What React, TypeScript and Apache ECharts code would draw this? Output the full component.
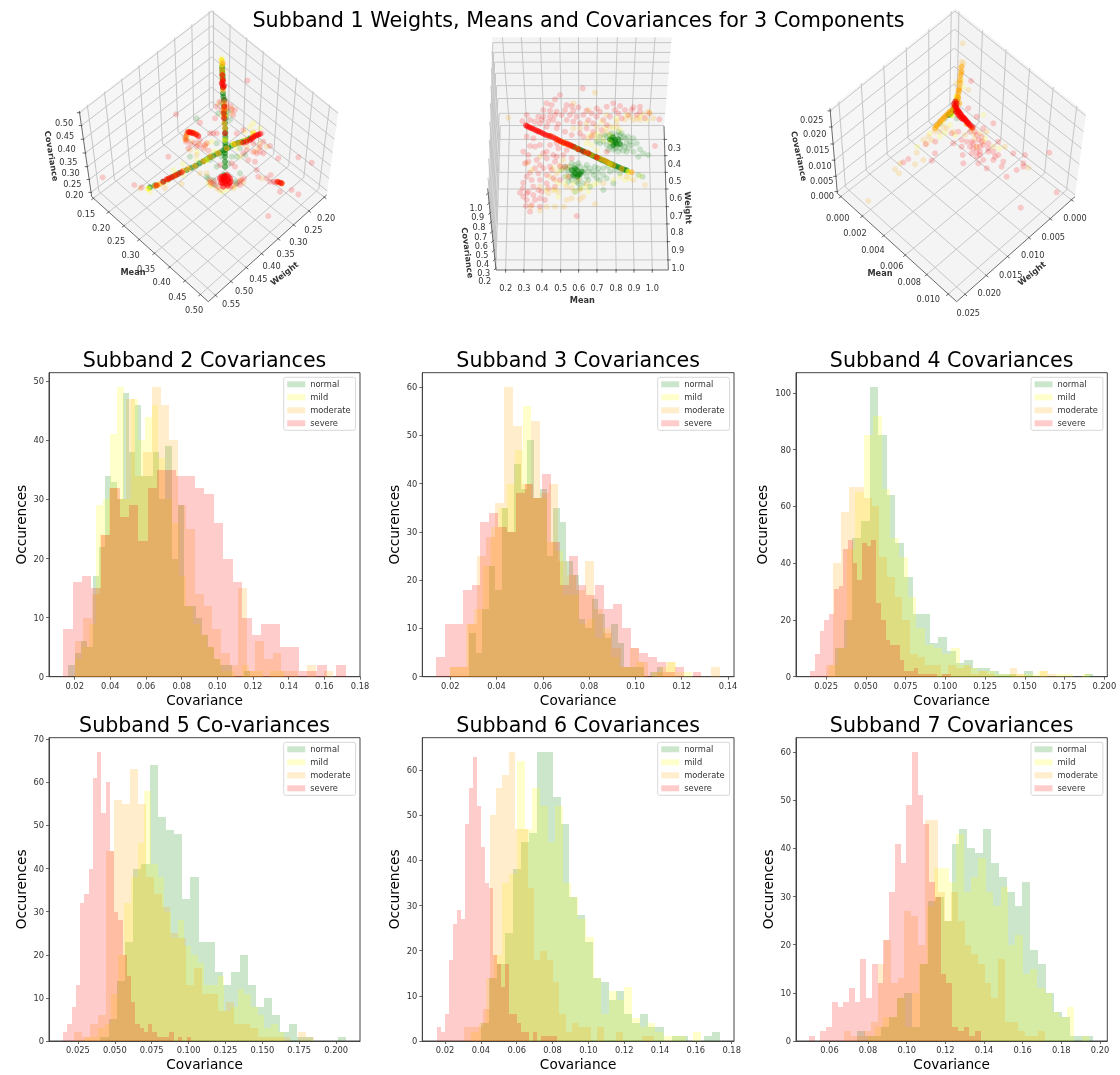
import React, { useEffect, useRef } from "react";
import * as echarts from "echarts";

// ---------- histogram data: [lowest edge, highest edge] and 30 bin counts per class ----------
const classNames = ["normal", "mild", "moderate", "severe"];
const classFills = ["rgba(0,128,0,0.2)", "rgba(255,255,0,0.2)", "rgba(255,165,0,0.2)", "rgba(255,0,0,0.2)"];
const classSolid = ["#008000", "#ffff00", "#ffa500", "#ff0000"];

const s2Ranges = [[0.0165, 0.1185], [0.02, 0.1375], [0.02, 0.1647], [0.0135, 0.172]];
const s2Normal = [2, 4, 6, 5, 17, 22, 34, 33, 30, 48, 38, 46, 34, 34, 38, 30, 39, 20, 29, 12, 12, 10, 7, 5, 3, 2, 2, 0, 0, 1];
const s2Mild = [3, 5, 9, 29, 30, 41, 49, 30, 47, 40, 44, 46, 37, 30, 26, 17, 12, 9, 7, 5, 3, 1, 1, 0, 2, 1, 1, 0, 1, 1];
const s2Moderate = [6, 10, 14, 24, 32, 30, 47, 34, 38, 49, 46, 40, 29, 25, 14, 12, 8, 4, 2, 15, 1, 6, 3, 4, 1, 1, 0, 2, 0, 1];
const s2Severe = [8, 16, 17, 15, 24, 32, 27, 29, 23, 32, 35, 35, 34, 34, 32, 31, 26, 20, 16, 10, 7, 9, 9, 5, 5, 1, 1, 2, 0, 2];

const s3Ranges = [[0.0282, 0.1119], [0.02, 0.1244], [0.02, 0.1364], [0.0139, 0.1285]];
const s3Normal = [9, 5, 14, 23, 18, 35, 30, 44, 39, 49, 37, 39, 25, 35, 32, 24, 21, 12, 10, 16, 13, 8, 11, 7, 2, 2, 2, 0, 1, 2];
const s3Mild = [2, 2, 11, 14, 23, 31, 35, 40, 47, 56, 37, 37, 28, 26, 17, 17, 11, 12, 8, 10, 4, 2, 2, 3, 0, 1, 2, 3, 1, 1];
const s3Moderate = [2, 2, 11, 25, 29, 36, 60, 52, 40, 53, 38, 40, 24, 21, 18, 24, 14, 9, 6, 2, 6, 3, 0, 1, 3, 0, 0, 0, 0, 2];
const s3Severe = [4, 11, 11, 18, 19, 32, 34, 31, 30, 38, 40, 37, 42, 28, 19, 25, 19, 17, 19, 14, 15, 10, 6, 5, 4, 3, 1, 2, 0, 1];

const s4Ranges = [[0.0307, 0.1931], [0.0271, 0.1912], [0.0248, 0.1694], [0.0151, 0.1038]];
const s4Normal = [10, 20, 49, 55, 102, 85, 64, 47, 35, 22, 22, 12, 14, 9, 5, 6, 3, 3, 2, 1, 1, 0, 2, 0, 0, 0, 0, 0, 0, 1];
const s4Mild = [4, 10, 45, 65, 85, 92, 66, 49, 42, 28, 17, 11, 10, 8, 10, 4, 3, 2, 2, 1, 1, 1, 1, 1, 2, 0, 1, 1, 0, 1];
const s4Moderate = [4, 40, 58, 67, 67, 63, 60, 42, 35, 28, 20, 8, 7, 4, 4, 1, 4, 3, 4, 1, 2, 1, 0, 0, 3, 1, 0, 0, 2, 1];
const s4Severe = [2, 8, 16, 20, 22, 31, 32, 45, 48, 40, 34, 47, 46, 48, 26, 20, 13, 11, 11, 6, 2, 2, 3, 1, 1, 1, 1, 0, 1, 1];

const s5Ranges = [[0.0403, 0.2066], [0.0295, 0.1648], [0.0223, 0.1847], [0.0149, 0.1015]];
const s5Normal = [1, 5, 14, 23, 40, 41, 64, 52, 49, 48, 33, 38, 23, 23, 16, 13, 16, 20, 13, 8, 10, 6, 2, 4, 1, 1, 0, 0, 0, 1];
const s5Mild = [1, 1, 3, 4, 11, 20, 32, 38, 46, 58, 41, 38, 30, 24, 28, 22, 20, 18, 13, 13, 15, 7, 8, 12, 11, 8, 6, 3, 4, 2];
const s5Moderate = [2, 1, 4, 6, 44, 56, 55, 63, 55, 38, 34, 31, 25, 24, 13, 17, 11, 11, 7, 9, 4, 4, 3, 1, 1, 1, 1, 0, 2, 1];
const s5Severe = [2, 4, 8, 13, 32, 34, 40, 61, 67, 53, 60, 44, 30, 28, 20, 15, 9, 4, 3, 2, 4, 2, 1, 1, 1, 2, 0, 1, 0, 1];

const s6Ranges = [[0.0401, 0.1735], [0.0345, 0.1629], [0.0308, 0.1368], [0.0155, 0.0825]];
const s6Normal = [4, 14, 17, 24, 38, 44, 46, 64, 64, 54, 48, 32, 28, 22, 14, 13, 9, 11, 6, 4, 6, 3, 3, 0, 1, 1, 0, 0, 1, 2];
const s6Mild = [2, 4, 14, 19, 35, 37, 62, 47, 56, 52, 44, 52, 35, 32, 27, 23, 14, 6, 11, 9, 12, 5, 3, 4, 2, 1, 1, 1, 0, 2];
const s6Moderate = [3, 3, 3, 7, 50, 56, 59, 64, 47, 47, 34, 18, 20, 18, 13, 6, 2, 4, 3, 3, 0, 3, 0, 0, 2, 0, 0, 0, 1, 1];
const s6Severe = [3, 2, 6, 18, 26, 29, 27, 48, 56, 63, 52, 43, 35, 34, 19, 17, 12, 17, 6, 6, 4, 2, 2, 0, 2, 0, 1, 1, 1, 1];

const s7Ranges = [[0.0744, 0.1965], [0.0799, 0.1943], [0.0676, 0.1716], [0.0494, 0.1383]];
const s7Normal = [2, 1, 1, 3, 5, 9, 10, 3, 16, 29, 30, 25, 41, 44, 40, 39, 44, 37, 34, 31, 28, 33, 19, 16, 10, 6, 5, 1, 1, 1];
const s7Mild = [1, 3, 5, 5, 9, 3, 10, 16, 28, 36, 36, 33, 43, 31, 34, 38, 31, 28, 32, 20, 22, 14, 15, 11, 10, 6, 5, 7, 0, 1];
const s7Moderate = [2, 1, 1, 2, 4, 16, 21, 12, 13, 27, 26, 20, 46, 46, 31, 25, 31, 25, 20, 18, 16, 12, 9, 17, 4, 4, 2, 1, 1, 2];
const s7Severe = [1, 0, 2, 3, 8, 7, 8, 11, 8, 17, 9, 16, 12, 21, 31, 41, 37, 49, 60, 51, 45, 33, 30, 14, 12, 3, 2, 3, 1, 2];

const xTicks2 = [0.02, 0.04, 0.06, 0.08, 0.1, 0.12, 0.14, 0.16, 0.18];
const xTicks3 = [0.02, 0.04, 0.06, 0.08, 0.1, 0.12, 0.14];
const xTicks4 = [0.025, 0.05, 0.075, 0.1, 0.125, 0.15, 0.175, 0.2];
const xTicks7 = [0.06, 0.08, 0.1, 0.12, 0.14, 0.16, 0.18, 0.2];
const yTicks2 = [0, 10, 20, 30, 40, 50];
const yTicks3 = [0, 10, 20, 30, 40, 50, 60];
const yTicks4 = [0, 20, 40, 60, 80, 100];
const yTicks5 = [0, 10, 20, 30, 40, 50, 60, 70];

const panels = [
  { title: "Subband 2 Covariances", ranges: s2Ranges, counts: [s2Normal, s2Mild, s2Moderate, s2Severe], left: 49, right: 360, top: 372.7, bottom: 676.7, xMin: 0.0056, xMax: 0.18, yMax: 51.45, xTicks: xTicks2, yTicks: yTicks2, dec: 2, gap: 21 },
  { title: "Subband 3 Covariances", ranges: s3Ranges, counts: [s3Normal, s3Mild, s3Moderate, s3Severe], left: 422.3, right: 734, top: 372.7, bottom: 676.7, xMin: 0.0079, xMax: 0.1426, yMax: 63, xTicks: xTicks3, yTicks: yTicks3, dec: 2, gap: 21 },
  { title: "Subband 4 Covariances", ranges: s4Ranges, counts: [s4Normal, s4Mild, s4Moderate, s4Severe], left: 796, right: 1107.3, top: 372.7, bottom: 676.7, xMin: 0.0061, xMax: 0.2019, yMax: 107.1, xTicks: xTicks4, yTicks: yTicks4, dec: 3, gap: 27 },
  { title: "Subband 5 Co-variances", ranges: s5Ranges, counts: [s5Normal, s5Mild, s5Moderate, s5Severe], left: 49, right: 360, top: 737.7, bottom: 1041, xMin: 0.0054, xMax: 0.2162, yMax: 70.35, xTicks: xTicks4, yTicks: yTicks5, dec: 3, gap: 21 },
  { title: "Subband 6 Covariances", ranges: s6Ranges, counts: [s6Normal, s6Mild, s6Moderate, s6Severe], left: 422.3, right: 734, top: 737.7, bottom: 1041, xMin: 0.0073, xMax: 0.1813, yMax: 67.2, xTicks: xTicks2, yTicks: yTicks3, dec: 2, gap: 21 },
  { title: "Subband 7 Covariances", ranges: s7Ranges, counts: [s7Normal, s7Mild, s7Moderate, s7Severe], left: 796, right: 1107.3, top: 737.7, bottom: 1041, xMin: 0.0427, xMax: 0.2038, yMax: 63, xTicks: xTicks7, yTicks: yTicks3, dec: 2, gap: 21 },
];

// ---------- Subband 1 scatter: positions in each 3D view's projected plane ----------
const v1NormalCore = [[546,200],[547,218],[548,236],[549,280],[552,300],[553,335],[555,355],[556,385],[556,410],[556,430],[556,450],[555,470],[555,500],[553,525],[330,562],[370,545],[398,530],[420,518],[455,503],[478,490],[500,478],[520,467],[540,458],[575,437],[595,428],[612,424],[630,415],[547,209],[548,227],[549,262],[550,290],[552,318],[554,345],[555,370],[556,398],[556,420],[556,440],[555,460],[555,485],[345,556],[385,538],[410,524],[440,510],[467,497],[490,484],[510,472],[530,462],[550,452],[565,443],[585,432],[604,426],[622,420]];
const v1MildCore = [[545,180],[546,195],[325,566],[352,556],[640,400],[580,432],[500,480],[555,420]];
const v1ModerateCore = [[546,210],[548,240],[552,310],[553,370],[345,558],[385,538],[430,512],[465,498],[510,470],[585,432],[620,420],[460,398],[445,395],[725,550],[555,330],[548,190],[547,225],[549,270],[551,325],[554,350],[555,385],[360,552],[405,527],[445,506],[490,484],[535,460],[560,445],[600,428],[638,410],[470,404],[452,397],[715,546],[440,405],[437,418]];
const v1SevereCore = [[547,225],[548,245],[548,255],[549,262],[551,340],[555,400],[350,556],[380,538],[388,535],[395,532],[425,517],[550,530],[555,528],[565,530],[545,530],[545,540],[555,540],[565,540],[548,550],[558,552],[568,550],[553,545],[620,425],[630,420],[640,412],[650,406],[655,404],[450,397],[460,400],[468,403],[725,550],[712,545],[555,535],[560,545],[550,536],[545,250],[552,258],[549,240],[552,355],[553,320],[415,522],[370,545],[405,527],[610,428],[645,408],[660,402],[635,416],[455,398],[445,396],[475,408],[720,548],[540,535],[570,535],[560,525],[550,560],[563,557],[543,548],[572,545]];
const v1NormalHalo = [[470,355],[555,300],[565,490],[600,520],[615,465],[510,480],[450,470],[545,310],[570,360],[520,540],[590,550],[500,530],[530,430],[525,555],[585,545],[505,535],[600,445],[535,340],[565,335],[545,470],[575,470],[590,470],[530,500]];
const v1MildHalo = [[640,370],[428,492],[470,455],[515,425],[505,550],[560,570],[610,420],[545,175],[550,215],[375,550],[330,575],[400,510],[430,525],[660,385],[590,445],[520,455],[600,470],[512,558],[545,575],[585,560],[630,380],[615,395],[500,430],[545,345],[560,345],[530,455],[470,480],[410,520]];
const v1ModerateHalo = [[300,565],[375,565],[425,552],[450,450],[470,465],[520,470],[500,520],[620,440],[660,430],[540,570],[510,545],[600,430],[575,340],[535,310],[560,320],[545,180],[548,195],[640,395],[645,455],[480,520],[600,540],[515,555],[530,565],[580,565],[610,548],[440,410],[455,425],[475,432],[495,440],[575,325],[550,335],[655,445],[680,440],[665,535]];
const v1SevereHalo = [[622,242],[408,343],[480,368],[385,470],[188,532],[283,555],[305,562],[525,355],[575,330],[540,305],[530,320],[440,400],[438,425],[445,445],[480,420],[495,435],[510,400],[530,400],[610,390],[590,400],[660,440],[690,438],[665,400],[670,460],[625,480],[645,485],[650,510],[655,530],[680,535],[692,525],[700,545],[720,575],[755,570],[775,583],[685,648],[775,472],[815,488],[715,475],[600,545],[575,490],[585,500],[520,400],[500,430],[470,440],[570,560],[525,545],[540,495],[610,460],[640,455],[620,450],[560,310],[580,345],[552,300],[512,548],[600,555],[510,540],[520,552],[535,560],[575,558],[590,552],[605,540],[612,535],[435,412],[440,420],[452,432],[465,428],[480,435],[490,445],[505,452],[545,330],[560,325],[572,318],[585,330],[660,455],[650,460],[640,430],[670,425],[690,545],[705,548]];

const v2NormalCore = [[395,378],[410,385],[422,390],[435,396],[448,402],[460,408],[472,413],[485,420],[498,425],[510,431],[522,436],[535,441],[548,447],[560,451],[515,360],[525,368],[535,358],[520,375],[510,358],[540,372],[395,450],[410,450],[405,460],[420,462],[412,470],[403,381],[416,387],[429,393],[441,399],[454,405],[466,410],[478,416],[491,422],[504,428],[516,433],[528,438],[541,444],[554,449],[525,360],[530,372],[518,352],[405,445],[415,465],[400,465],[425,455]];
const v2MildCore = [[565,455],[372,368],[510,432]];
const v2ModerateCore = [[350,358],[365,365],[380,372],[395,378],[470,412],[490,420],[505,428],[575,457],[357,362],[372,369],[388,375],[412,386],[440,398],[455,405],[480,416],[498,424],[520,436],[545,446],[330,348]];
const v2SevereCore = [[258,316],[268,322],[278,326],[290,332],[300,336],[312,342],[325,347],[340,352],[355,360],[370,368],[385,373],[400,380],[430,395],[262,319],[273,324],[284,329],[295,334],[306,339],[318,345],[332,349],[347,356],[362,364],[378,370],[392,376],[415,388],[445,400],[470,412]];
const v2NormalHalo = [[500,350],[510,345],[520,350],[530,345],[545,340],[555,355],[540,360],[525,365],[510,365],[490,365],[500,375],[515,378],[530,380],[545,375],[560,370],[570,365],[520,390],[535,395],[550,392],[565,385],[505,390],[480,370],[580,395],[600,388],[625,405],[595,465],[608,470],[375,440],[390,440],[405,435],[420,440],[435,445],[385,455],[400,452],[415,455],[430,458],[445,455],[390,470],[405,470],[420,475],[440,470],[460,465],[475,458],[490,465],[500,475],[410,485],[385,485],[430,490],[465,440],[490,445],[525,450],[405,515],[490,510],[520,490],[515,340],[535,335],[550,350],[565,350],[575,375],[590,370],[495,345],[480,350],[470,365],[510,380],[525,385],[540,385],[555,380],[580,355],[560,395],[610,400],[595,410],[540,345],[365,450],[380,445],[395,430],[415,430],[440,435],[450,445],[460,455],[375,470],[395,480],[415,490],[445,480],[470,475],[480,480],[510,455],[505,440],[475,445],[540,460],[420,505],[450,500]];
const v2MildHalo = [[630,278],[560,285],[510,345],[470,355],[490,360],[450,345],[340,445],[355,490],[380,470],[405,515],[440,500],[458,495],[520,480],[570,475],[600,468],[520,325],[485,305],[540,330],[355,530],[320,510],[275,450],[440,370],[510,365],[470,340],[495,325],[530,295],[600,290],[620,300],[455,375],[470,390],[360,450],[375,490],[400,490],[445,515],[470,490],[540,470],[555,480],[425,505],[345,510]];
const v2ModerateHalo = [[205,293],[300,572],[325,520],[272,560],[345,560],[355,515],[372,560],[395,535],[420,538],[465,552],[465,218],[400,250],[445,270],[500,285],[555,298],[580,300],[610,283],[625,275],[370,420],[385,440],[350,460],[415,480],[440,490],[445,355],[470,320],[485,345],[510,320],[530,305],[570,290],[615,495],[340,510],[380,500],[420,510],[330,470],[360,435],[300,410],[440,310],[460,345],[420,325],[400,325],[500,335],[530,320],[590,295],[640,295],[600,300],[440,395],[370,445],[345,480],[395,505],[430,530],[490,490],[560,470],[580,480],[380,540],[320,560],[260,430],[300,500]];
const v2SevereHalo = [[428,205],[345,238],[360,225],[320,250],[380,255],[395,258],[330,272],[310,270],[365,285],[400,272],[440,272],[470,265],[500,260],[520,250],[540,258],[580,262],[600,260],[310,290],[295,290],[260,285],[247,303],[340,300],[355,312],[380,300],[400,305],[420,310],[445,300],[470,290],[490,300],[510,290],[535,280],[555,270],[590,285],[628,280],[658,298],[645,378],[320,320],[350,325],[375,335],[395,345],[420,340],[440,325],[460,335],[485,330],[280,355],[260,350],[300,375],[330,375],[355,385],[270,378],[250,395],[310,400],[340,405],[265,425],[290,420],[320,415],[345,425],[370,405],[395,415],[285,445],[310,445],[335,450],[360,440],[270,458],[340,475],[300,480],[250,488],[275,480],[320,490],[240,518],[248,505],[295,510],[260,540],[285,540],[300,535],[258,558],[275,555],[410,588],[360,480],[385,470],[500,395],[615,295],[270,300],[285,305],[305,300],[330,290],[350,275],[375,270],[410,290],[430,285],[455,280],[480,275],[525,270],[565,285],[575,270],[600,275],[545,295],[325,305],[345,285],[390,285],[415,262],[460,310],[500,315],[430,350],[455,350],[335,255],[300,310],[285,380],[320,395],[350,370],[265,405],[255,430],[300,435],[330,440],[350,410],[380,390],[375,440],[295,460],[320,465],[260,470],[280,500],[305,515],[325,505],[345,500],[265,515],[250,530],[280,525],[270,575],[300,560],[315,540],[260,520]];

const v3NormalCore = [[512,340],[520,330],[528,315],[530,300],[505,345],[516,335],[524,322],[508,343]];
const v3MildCore = [[530,290],[515,345]];
const v3ModerateCore = [[535,295],[535,280],[540,250],[542,225],[538,265],[530,300],[520,325],[510,335],[500,345],[490,355],[480,365],[470,378],[575,385],[533,290],[537,272],[540,240],[544,215],[545,200],[525,320],[515,332],[505,340],[495,350],[485,360],[475,372],[465,385],[560,372],[538,310]];
const v3SevereCore = [[525,318],[530,325],[535,333],[540,340],[545,348],[550,353],[555,358],[560,365],[565,370],[572,378],[528,335],[535,345],[545,355],[530,310],[528,322],[533,330],[538,337],[543,344],[548,351],[553,356],[558,362],[563,368],[568,374],[532,338],[540,350],[550,358],[522,312],[526,305],[578,382]];
const v3NormalHalo = [[510,345],[520,330],[525,310],[495,355],[530,355],[480,370]];
const v3MildHalo = [[412,440],[495,398],[510,375],[450,400],[480,410],[525,405],[610,345],[590,440],[658,445],[615,415],[545,240],[550,260],[470,380],[490,365]];
const v3ModerateHalo = [[548,130],[545,185],[550,190],[540,230],[565,270],[265,603],[345,508],[357,520],[405,493],[430,480],[410,458],[430,420],[445,410],[465,395],[470,375],[490,380],[580,400],[555,405],[620,395],[675,440],[745,503],[360,490],[640,440],[530,250],[545,215],[535,270],[540,205],[480,395],[500,385],[455,420],[440,430],[585,415],[610,425],[600,400],[520,395]];
const v3SevereHalo = [[573,243],[515,400],[535,395],[466,425],[437,433],[465,460],[455,482],[370,487],[385,477],[520,430],[548,465],[580,445],[595,420],[605,410],[610,435],[625,455],[640,455],[655,465],[590,470],[575,460],[600,465],[610,480],[595,490],[550,490],[620,505],[640,480],[670,485],[665,500],[710,510],[730,490],[735,465],[680,530],[808,458],[830,577],[722,623],[655,425],[640,370],[610,385],[590,405],[575,425],[560,425],[545,420],[590,350],[565,325],[600,440],[625,430],[700,460],[730,500],[580,430],[590,440],[605,425],[570,395],[585,395],[625,445],[600,455],[645,470],[590,455],[570,440],[545,440]];

type P = number[];
const views = [
  {
    origin: [40, 0], size: [320, 330],
    core: [v1NormalCore, v1MildCore, v1ModerateCore, v1SevereCore],
    halo: [v1NormalHalo, v1MildHalo, v1ModerateHalo, v1SevereHalo],
    L: [155, 590], F: [505, 905], R: [860, 585], C: [515, 320], A: [515, 28], TL: [118, 333], TR: [895, 335],
    mFr: [0.015, 0.146, 0.277, 0.408, 0.539, 0.67, 0.801, 0.932],
    wFr: [0.02, 0.15, 0.28, 0.41, 0.55, 0.68, 0.81, 0.94],
    zNear: [0.05, 0.2, 0.35, 0.51, 0.67, 0.83, 0.98], zFar: [0.05, 0.2, 0.35, 0.51, 0.67, 0.83, 0.98],
    zTick: [0.05, 0.2, 0.35, 0.51, 0.67, 0.83, 0.98],
    mLabels: [["0.15",138,642],["0.20",183,685],["0.25",228,722],["0.30",272,764],["0.35",318,806],["0.40",365,847],["0.45",412,890],["0.50",462,930]],
    wLabels: [["0.20",858,655],["0.25",820,690],["0.30",775,727],["0.35",737,762],["0.40",695,797],["0.45",655,838],["0.50",612,873],["0.55",573,913]],
    zLabels: [["0.50",72,370],["0.45",75,408],["0.40",80,448],["0.35",85,485],["0.30",92,518],["0.25",97,552],["0.20",103,585]],
    names: [["Weight",733,820,38],["Mean",279,817,0],["Covariance",35,468,-80.5]],
  },
  {
    origin: [440, 20], size: [280, 300],
    core: [v2NormalCore, v2MildCore, v2ModerateCore, v2SevereCore],
    halo: [v2NormalHalo, v2MildHalo, v2ModerateHalo, v2SevereHalo],
    L: [168, 750], F: [685, 750], R: [672, 318], C: [181, 318], A: [157, 52], TL: [143, 505], TR: [695, 52],
    mFr: [0.056, 0.162, 0.267, 0.375, 0.48, 0.586, 0.697, 0.801, 0.907],
    wFr: [0.093, 0.206, 0.322, 0.4375, 0.56, 0.68, 0.803, 0.93],
    zNear: [0.02, 0.13, 0.24, 0.355, 0.47, 0.585, 0.7, 0.82], zFar: [0.005, 0.143, 0.31, 0.455, 0.595, 0.72, 0.83, 0.94],
    zTick: [0.02, 0.13, 0.24, 0.355, 0.47, 0.585, 0.7, 0.82, 0.94],
    mLabels: [["0.2",197,805],["0.3",252,805],["0.4",306,805],["0.5",362,805],["0.6",416,805],["0.7",471,805],["0.8",528,805],["0.9",582,805],["1.0",637,805]],
    wLabels: [["0.3",703,385],["0.4",703,433],["0.5",705,484],["0.6",707,535],["0.7",709,587],["0.8",711,637],["0.9",713,691],["1.0",714,743]],
    zLabels: [["1.0",108,563],["0.9",113,592],["0.8",117,622],["0.7",122,650],["0.6",124,678],["0.5",126,705],["0.4",128,731],["0.3",131,758],["0.2",134,783]],
    names: [["Weight",745,563,-88],["Mean",427,840,0],["Covariance",83,698,-83]],
  },
  {
    origin: [780, 0], size: [320, 330],
    core: [v3NormalCore, v3MildCore, v3ModerateCore, v3SevereCore],
    halo: [v3NormalHalo, v3MildHalo, v3ModerateHalo, v3SevereHalo],
    L: [172, 580], F: [530, 905], R: [885, 590], C: [520, 310], A: [525, 25], TL: [150, 325], TR: [918, 340],
    mFr: [0.03, 0.21, 0.39, 0.57, 0.75, 0.93],
    wFr: [0.03, 0.21, 0.39, 0.57, 0.75, 0.93],
    zNear: [0.02, 0.2, 0.39, 0.58, 0.78, 0.97], zFar: [0.02, 0.2, 0.39, 0.58, 0.78, 0.97],
    zTick: [0.02, 0.2, 0.39, 0.58, 0.78, 0.97],
    mLabels: [["0.000",173,653],["0.002",225,700],["0.004",279,750],["0.006",335,798],["0.008",388,845],["0.010",445,897]],
    wLabels: [["0.000",885,653],["0.005",820,710],["0.010",758,765],["0.015",692,825],["0.020",628,880],["0.025",565,940]],
    zLabels: [["0.025",95,360],["0.020",104,403],["0.015",113,450],["0.010",120,497],["0.005",125,543],["0.000",127,587]],
    names: [["Weight",755,820,39],["Mean",300,818,0],["Covariance",58,468,-78]],
  },
];

const FONT = '"DejaVu Sans"';
const lerp = (a: P, b: P, t: number): P => [a[0] + (b[0] - a[0]) * t, a[1] + (b[1] - a[1]) * t];

function boxGraphics(v: any) {
  const px = (p: P): P => [v.origin[0] + p[0] / 3, v.origin[1] + p[1] / 3];
  const out: any[] = [];
  const poly = (pts: P[], fill: string) => out.push({ type: "polygon", silent: true, shape: { points: pts.map(px) }, style: { fill, stroke: "none" } });
  const seg = (a: P, b: P, stroke: string, lineWidth: number) => {
    const p = px(a), q = px(b);
    out.push({ type: "line", silent: true, shape: { x1: p[0], y1: p[1], x2: q[0], y2: q[1] }, style: { stroke, lineWidth } });
  };
  const { L, F, R, C, A, TL, TR } = v;
  poly([C, L, TL, A], "#f6f6f6");
  poly([C, R, TR, A], "#f3f3f3");
  poly([L, F, R, C], "#f4f4f4");
  const grid = "#c6c6c6";
  v.mFr.forEach((m: number) => {
    seg(lerp(L, F, m), lerp(C, R, m), grid, 1);
    seg(lerp(C, R, m), lerp(A, TR, m), grid, 1);
  });
  v.wFr.forEach((w: number) => {
    seg(lerp(R, F, w), lerp(C, L, w), grid, 1);
    seg(lerp(C, L, w), lerp(A, TL, w), grid, 1);
  });
  v.zNear.forEach((z: number, i: number) => {
    const far = v.zFar[i];
    seg(lerp(L, TL, z), lerp(C, A, far), grid, 1);
    seg(lerp(R, TR, far), lerp(C, A, far), grid, 1);
  });
  const ink = "#444";
  seg(L, F, ink, 0.8); seg(R, F, ink, 0.8); seg(L, TL, ink, 0.8);
  const unit = (a: P, b: P): P => { const dx = b[0] - a[0], dy = b[1] - a[1], n = Math.hypot(dx, dy); return [dx / n, dy / n]; };
  const mDir = unit(C, L), wDir = unit(C, R), zDir = unit(R, L);
  const tick = (p: P, d: P) => seg([p[0] - d[0] * 3, p[1] - d[1] * 3], [p[0] + d[0] * 8, p[1] + d[1] * 8], ink, 0.8);
  v.mFr.forEach((m: number) => tick(lerp(L, F, m), mDir));
  v.wFr.forEach((w: number) => tick(lerp(R, F, w), wDir));
  v.zTick.forEach((z: number) => tick(lerp(L, TL, z), zDir));
  const label = (t: any[], font: string, rot = 0) => {
    const p = px([t[1], t[2]]);
    out.push({ type: "text", silent: true, x: p[0], y: p[1], rotation: (rot * Math.PI) / 180, style: { text: t[0], font, fill: "#333", align: "center", verticalAlign: "middle" } });
  };
  [...v.mLabels, ...v.wLabels, ...v.zLabels].forEach((t: any[]) => label(t, `8.2px ${FONT}`));
  v.names.forEach((t: any[]) => label(t, `bold 8.2px ${FONT}`, t[3]));
  return out;
}

const binRenderer = (fill: string) => (_: any, api: any) => {
  const a = api.coord([api.value(0), api.value(2)]);
  const b = api.coord([api.value(1), 0]);
  if (api.value(2) <= 0) return null;
  const x0 = Math.round(a[0]), x1 = Math.round(b[0]), y0 = Math.round(a[1]), y1 = Math.round(b[1]);
  return { type: "rect", silent: true, shape: { x: x0, y: y0, width: x1 - x0, height: y1 - y0 }, style: { fill } };
};

function buildOption() {
  const grid: any[] = [], xAxis: any[] = [], yAxis: any[] = [], series: any[] = [], title: any[] = [], legend: any[] = [];
  title.push({ text: "Subband 1 Weights, Means and Covariances for 3 Components", left: 578.5, top: 9.5, textAlign: "center", padding: 0, textStyle: { fontFamily: FONT, fontSize: 20.7, fontWeight: "normal", color: "#000" } });
  panels.forEach((p, i) => {
    grid.push({ left: p.left, top: p.top, width: p.right - p.left, height: p.bottom - p.top, show: true, borderColor: "#444", borderWidth: 1, backgroundColor: "transparent" });
    xAxis.push({
      gridIndex: i, type: "value", min: p.xMin, max: p.xMax, name: "Covariance", nameLocation: "middle", nameGap: 16,
      nameTextStyle: { fontFamily: FONT, fontSize: 13.65, color: "#000" }, splitLine: { show: false },
      axisLine: { lineStyle: { color: "#444", width: 1 }, onZero: false },
      axisTick: { customValues: p.xTicks, length: 3, lineStyle: { color: "#444", width: 0.8 } },
      axisLabel: { customValues: p.xTicks, fontFamily: FONT, fontSize: 8.3, color: "#333", margin: 5, formatter: (v: number) => v.toFixed(p.dec) },
    });
    yAxis.push({
      gridIndex: i, type: "value", min: 0, max: p.yMax, name: "Occurences", nameLocation: "middle", nameGap: p.gap, nameRotate: 90,
      nameTextStyle: { fontFamily: FONT, fontSize: 13.65, color: "#000" }, splitLine: { show: false },
      axisLine: { show: true, lineStyle: { color: "#444", width: 1 } },
      axisTick: { customValues: p.yTicks, length: 3, lineStyle: { color: "#444", width: 0.8 } },
      axisLabel: { customValues: p.yTicks, fontFamily: FONT, fontSize: 8.3, color: "#333", margin: 5 },
    });
    title.push({ text: p.title, left: (p.left + p.right) / 2, top: p.top - 23.5, textAlign: "center", padding: 0, textStyle: { fontFamily: FONT, fontSize: 20.6, fontWeight: "normal", color: "#000" } });
    legend.push({
      left: p.right - 76.3, top: p.top + 4.6, orient: "vertical", selectedMode: false, icon: "rect", itemWidth: 18, itemHeight: 6, itemGap: 5,
      padding: [3, 5, 3, 3.5], backgroundColor: "rgba(255,255,255,0.8)", borderColor: "#d8d8d8", borderWidth: 1, borderRadius: 2,
      textStyle: { fontFamily: FONT, fontSize: 8.3, color: "#333" },
      data: classNames.map((name, c) => ({ name, itemStyle: { color: classFills[c] } })),
    });
    p.counts.forEach((counts, c) => {
      const [lo, hi] = p.ranges[c];
      const w = (hi - lo) / counts.length;
      series.push({
        type: "custom", name: classNames[c], xAxisIndex: i, yAxisIndex: i, silent: true, clip: false,
        itemStyle: { color: classFills[c] }, encode: { x: [0, 1], y: 2 },
        renderItem: binRenderer(classFills[c]),
        data: counts.map((n, k) => [lo + k * w, lo + (k + 1) * w, n]),
      });
    });
  });
  views.forEach((v, j) => {
    const i = panels.length + j;
    grid.push({ left: v.origin[0], top: v.origin[1], width: v.size[0], height: v.size[1], show: false });
    xAxis.push({ gridIndex: i, type: "value", min: 0, max: v.size[0] * 3, show: false });
    yAxis.push({ gridIndex: i, type: "value", min: 0, max: v.size[1] * 3, inverse: true, show: false });
    classNames.forEach((name, c) => {
      series.push({ type: "scatter", name, xAxisIndex: i, yAxisIndex: i, silent: true, symbolSize: 6, itemStyle: { color: classSolid[c], opacity: 0.18 }, data: v.halo[c] });
      series.push({ type: "scatter", name, xAxisIndex: i, yAxisIndex: i, silent: true, symbolSize: 6, itemStyle: { color: classSolid[c], opacity: 0.55 }, data: v.core[c] });
    });
  });
  return {
    animation: false, backgroundColor: "#fff", textStyle: { fontFamily: FONT },
    title, legend, grid, xAxis, yAxis, series,
    graphic: { elements: views.flatMap(boxGraphics) },
  };
}

export default function App() {
  const ref = useRef<HTMLDivElement>(null);
  useEffect(() => {
    const chart = echarts.init(ref.current!, undefined, { renderer: "svg" });
    chart.setOption(buildOption() as any);
    return () => chart.dispose();
  }, []);
  return <div ref={ref} style={{ position: "fixed", left: 0, top: 0, width: 1120, height: 1075, filter: "blur(0.45px)" }} />;
}
